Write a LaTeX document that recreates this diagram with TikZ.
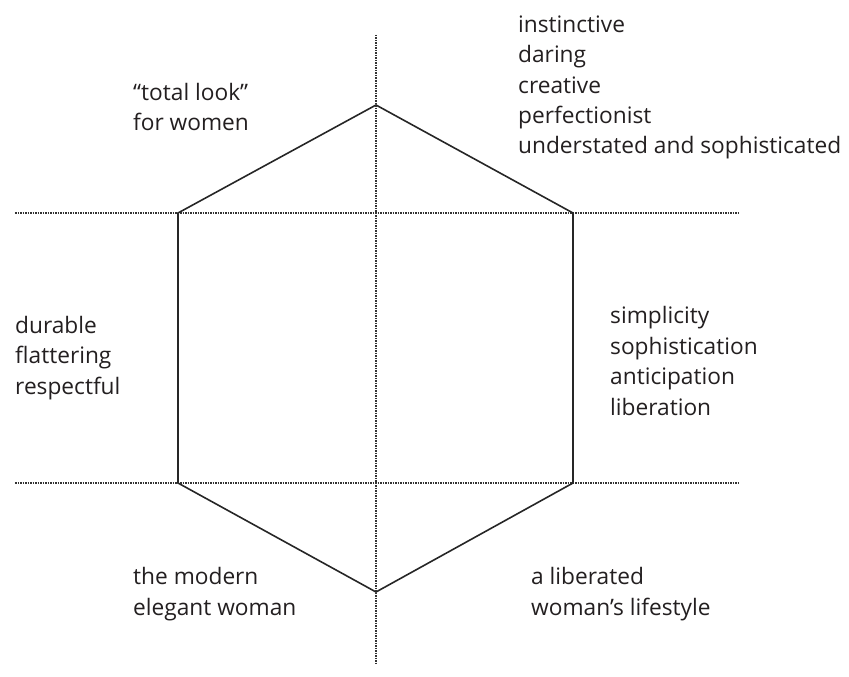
\documentclass[tikz,border=0pt]{standalone}
\usepackage{fontspec}
\setmainfont{Open Sans}
\definecolor{txt}{HTML}{231F20}
\definecolor{dotc}{HTML}{333333}
\begin{document}
\begin{tikzpicture}[x=1pt,y=-1pt,
  axis/.style={draw=dotc,line width=2.2pt,dash pattern=on 1.5pt off 1pt},
  hexline/.style={draw=black!85,line width=1.6pt,line join=miter},
  lbl/.style={anchor=west,align=left,inner sep=0pt,text=txt,font=\fontsize{22.7}{30.4}\selectfont}]
\useasboundingbox (0,0) rectangle (849,677);
% axes
\coordinate (vt) at (376,35);
\coordinate (vb) at (376,665);
\coordinate (h1l) at (15,213);
\coordinate (h1r) at (738,213);
\coordinate (h2l) at (15,483);
\coordinate (h2r) at (738,483);
\draw[axis] (vt) -- (vb);
\draw[axis] (h1l) -- (h1r);
\draw[axis] (h2l) -- (h2r);
% hexagon
\coordinate (T) at (376,105);
\coordinate (UR) at (573,213);
\coordinate (LR) at (573,483);
\coordinate (B) at (376,592);
\coordinate (LL) at (178,483);
\coordinate (UL) at (178,213);
\draw[hexline] (T) -- (UR) -- (LR) -- (B) -- (LL) -- (UL) -- cycle;
% labels
\node[lbl] (tr) at (518,87.5) {instinctive\\daring\\creative\\perfectionist\\understated and sophisticated};
\node[lbl] (tl) at (133,107) {“total look”\\for women};
\node[lbl] (ml) at (15,358) {durable\\flattering\\respectful};
\node[lbl] (mr) at (610,361) {simplicity\\sophistication\\anticipation\\liberation};
\node[lbl] (bl) at (133,594) {the modern\\elegant woman};
\node[lbl] (br) at (531,594) {a liberated\\woman’s lifestyle};
\end{tikzpicture}
\end{document}
